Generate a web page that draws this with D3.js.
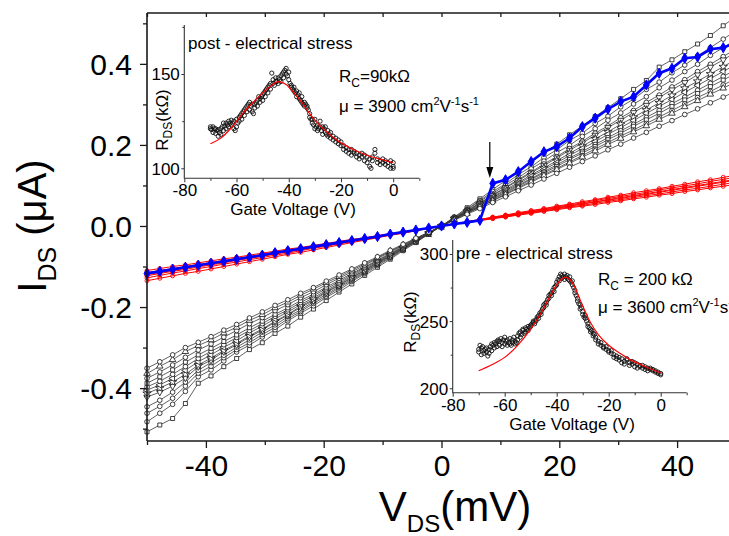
<!DOCTYPE html>
<html><head><meta charset="utf-8">
<script src="https://cdn.jsdelivr.net/npm/d3@7"></script>
<style>body{margin:0;background:#fff} svg{display:block}</style>
</head><body>
<svg id="c" width="729" height="536"></svg>
<script>
// ---------- main I-V data (V in mV, I in nA) ----------
const vds = [-50,-47.83,-45.65,-43.48,-41.3,-39.13,-36.96,-34.78,-32.61,-30.43,-28.26,-26.09,-23.91,-21.74,-19.57,-17.39,-15.22,-13.04,-10.87,-8.7,-6.52,-4.35,-2.17,0,2.17,4.35,6.52,8.7,10.87,13.04,15.22,17.39,19.57,21.74,23.91,26.09,28.26,30.43,32.61,34.78,36.96,39.13,41.3,43.48,45.65,47.83,50];

const bkA = [-508,-491,-475,-438,-388,-370,-347,-327,-305,-288,-265,-247,-225,-205,-184,-163,-143,-122,-102,-82,-61,-41,-20,0,22,45,67,90,112,135,157,180,202,225,247,270,292,314,337,359,392,410,430,449,470,494,517];
const bkB = [-483,-462,-440,-408,-372,-355,-333,-311,-294,-274,-256,-234,-215,-197,-176,-158,-137,-118,-98,-79,-59,-39,-20,0,21,42,63,85,104,127,146,169,188,211,229,253,271,294,313,337,355,378,397,420,440,461,482];
const bkC = [-462,-445,-425,-395,-363,-346,-325,-305,-288,-268,-250,-229,-211,-191,-173,-153,-134,-115,-95,-77,-57,-38,-19,0,20,40,61,80,101,119,141,160,181,199,221,240,261,279,301,319,341,360,381,399,421,440,460];
const bkD = [-446,-430,-410,-385,-356,-337,-319,-299,-281,-262,-244,-224,-207,-187,-169,-150,-131,-113,-93,-75,-56,-37,-19,0,19,38,57,77,95,115,133,153,171,191,209,229,247,267,285,305,323,343,361,381,399,418,437];
const bkE = [-422,-410,-395,-375,-347,-331,-310,-293,-274,-257,-237,-220,-201,-184,-164,-147,-128,-110,-91,-74,-55,-37,-18,0,19,37,56,75,94,112,131,149,168,187,205,224,243,261,280,298,317,336,354,373,392,410,429];
const bkF = [-413,-400,-385,-366,-343,-326,-307,-290,-271,-254,-235,-218,-198,-181,-162,-145,-126,-109,-90,-72,-54,-36,-18,0,18,36,54,72,90,107,126,143,161,179,197,215,232,251,268,286,304,322,340,357,375,393,411];
const bkG = [-405,-392,-376,-356,-335,-318,-299,-283,-264,-247,-229,-212,-194,-177,-159,-142,-123,-106,-88,-71,-53,-35,-18,0,17,35,52,70,87,104,122,139,156,174,191,208,226,243,260,278,295,312,330,347,364,381,399];
const bkH = [-397,-383,-366,-347,-327,-309,-293,-275,-258,-241,-223,-207,-189,-172,-155,-138,-120,-103,-86,-69,-52,-34,-17,0,17,34,50,67,84,101,117,134,151,168,184,201,218,235,251,268,285,302,318,335,352,369,386];
const bkI = [-388,-372,-355,-336,-318,-302,-285,-269,-251,-235,-218,-202,-184,-168,-151,-134,-117,-101,-84,-67,-50,-33,-17,0,16,33,49,66,82,98,115,131,147,164,180,196,213,229,246,262,278,295,311,327,344,360,377];
const bkJ = [-376,-360,-343,-324,-306,-291,-274,-258,-241,-226,-209,-194,-177,-162,-145,-129,-113,-97,-80,-64,-48,-32,-16,0,16,32,47,63,79,95,111,127,142,158,174,190,206,222,237,253,269,285,301,317,332,348,364];
const bkK = [-364,-346,-330,-310,-295,-281,-264,-250,-233,-219,-202,-188,-171,-156,-140,-125,-109,-94,-78,-62,-47,-31,-16,0,15,31,46,62,77,93,108,124,139,155,170,185,201,216,232,247,263,278,294,309,325,340,356];
const bkL = [-351,-335,-318,-300,-287,-273,-257,-243,-227,-212,-196,-182,-166,-152,-136,-121,-106,-91,-76,-60,-45,-30,-15,0,14,29,43,58,72,87,101,116,130,145,159,173,188,202,217,231,246,260,275,289,304,318,333];
const blackSeries = [bkA,bkB,bkC,bkD,bkE,bkF,bkG,bkH,bkI,bkJ,bkK,bkL];
const blackMarkers = ["square","circle","circle","circle","triangle-down","star","triangle-left","circle","square","circle","triangle-up","circle"];

const rd1 = [-110,-105,-100,-96,-91,-86,-81,-77,-72,-67,-62,-57,-53,-48,-43,-38,-33,-29,-24,-19,-14,-10,-5,0,4,9,13,18,22,27,31,36,40,45,49,53,58,62,67,71,76,80,85,89,94,98,103];
const rd2 = [-115,-110,-105,-100,-95,-90,-85,-80,-75,-70,-65,-60,-55,-50,-45,-40,-35,-30,-25,-20,-15,-10,-5,0,5,9,14,19,23,28,33,37,42,47,51,56,61,65,70,75,79,84,89,93,98,103,108];
const rd3 = [-120,-115,-110,-104,-99,-94,-89,-83,-78,-73,-68,-63,-57,-52,-47,-42,-37,-31,-26,-21,-16,-10,-5,0,5,10,15,20,24,29,34,39,44,49,54,59,64,68,73,78,83,88,93,98,103,108,113];
const rd4 = [-123,-117,-112,-107,-101,-96,-91,-85,-80,-75,-69,-64,-59,-53,-48,-43,-37,-32,-27,-21,-16,-11,-5,0,5,10,15,20,25,30,35,40,45,50,55,60,65,70,75,80,85,90,95,100,105,110,115];
const rd5 = [-128,-122,-116,-111,-105,-100,-94,-89,-83,-78,-72,-67,-61,-55,-50,-44,-39,-33,-28,-22,-17,-11,-6,0,5,10,16,21,26,31,37,42,47,52,57,63,68,73,78,83,89,94,99,104,110,115,120];
const rd6 = [-135,-129,-123,-117,-112,-106,-100,-94,-88,-82,-76,-70,-65,-59,-53,-47,-41,-35,-29,-23,-18,-12,-6,0,5,11,16,22,27,33,38,43,49,54,60,65,71,76,82,87,92,98,103,109,114,120,125];
const redSeries = [rd1,rd2,rd3,rd4,rd5,rd6];

const blueSeries = [-117,-112,-107,-102,-97,-92,-87,-82,-77,-72,-66,-61,-56,-51,-46,-41,-36,-31,-26,-20,-15,-10,-5,0,5,9,14,105,114,134,159,183,196,217,245,266,288,307,319,348,377,389,414,417,436,440,452];

const xMajor = [-40,-20,0,20,40], xMinor = [-50,-30,-10,10,30,50], xTop = [-50,-40,-30,-20,-10,0,10,20,30,40,50];
const yMajor = [-400,-200,0,200,400], yMinor = [-500,-300,-100,100,300,500];
const arrowV = 8.2, arrowTop = 142, arrowTip = 178;

// ---------- inset data (Vg in V, R in kOhm) ----------
const postPts = [[-70,122],[-70,121],[-69.5,120.5],[-69,122],[-69,119],[-68.5,121],[-68,118.5],[-68,121],[-67.5,120],[-67,117],[-67,120.5],[-66.5,119],[-66,118],[-66,121],[-65.5,122],[-65,120],[-65,124],[-64.5,122.5],[-64,121],[-64,124],[-63.5,123],[-63,122],[-63,125],[-62.5,124],[-62,123],[-62,125.5],[-61.5,124],[-61,121],[-61,125],[-60.5,120],[-60,122],[-60,126],[-59.5,124],[-59,127],[-59,125],[-58.5,128],[-58,126],[-58,129],[-57.5,130],[-57,128],[-57,131],[-56.5,132],[-56,130],[-56,133],[-55.5,134],[-55,131],[-55,135],[-54.5,133],[-54,130],[-54,134],[-53.5,129],[-53,132],[-53,134],[-52.5,135],[-52,133],[-52,136],[-51.5,138],[-51,135],[-51,137],[-50.5,138],[-50,136],[-50,139],[-49.5,140],[-49,138],[-49,141],[-48.5,142],[-48,140],[-48,143],[-47.5,144],[-47,142],[-47,145],[-46.5,150.5],[-46,145],[-46,147],[-45.5,144],[-45,146],[-45,148],[-44.5,146],[-44,145],[-44,148],[-43.5,147],[-43,149],[-43,146],[-42.5,150],[-42,148],[-42,151],[-41.5,152],[-41,153],[-41,150],[-40.5,149],[-40,147],[-40,151],[-39.5,145],[-39,143],[-39,144],[-38.5,142],[-38,141],[-38,143],[-37.5,140],[-37,138],[-37,141],[-36.5,139],[-36,137],[-36,140],[-35.5,136],[-35,135],[-35,138],[-34.5,134],[-34,133],[-34,135],[-33.5,134],[-33,132],[-33,133],[-32.5,131],[-32,127],[-32,129],[-31.5,126],[-31,124],[-31,126],[-30.5,123],[-30,121],[-30,126],[-29.5,122],[-29,120],[-29,123],[-28.5,121],[-28,125],[-28,122],[-27.5,120],[-27,118],[-27,122],[-26.5,121],[-26,119],[-26,122],[-25.5,118],[-25,117],[-25,120],[-24.5,118],[-24,116],[-24,119],[-23,117],[-23,115],[-22,116],[-22,114],[-21,113],[-21,115],[-20,112],[-20,114],[-19,110],[-19,112],[-18,109],[-18,111],[-17,108],[-17,110],[-16,110],[-16,107],[-15,108],[-15,109],[-14,106],[-14,108],[-13,107],[-13,105],[-12,108],[-12,106],[-11,104],[-11,107],[-10,103],[-10,106],[-9,101],[-9,105],[-8.5,100],[-8,104],[-8,106],[-7,110],[-7,108],[-6,105],[-6,103],[-5,104],[-5,102],[-4,103],[-4,105],[-3,102],[-3,104],[-2,101],[-2,103],[-1,100],[-1,104],[0,101],[0,103],[0,100]];
const postFit = [[-70,113],[-66,116],[-62,121.5],[-58,128.5],[-54,134.5],[-50,140],[-47,143.5],[-44,146],[-41,144.5],[-38,140],[-35,135],[-32,129],[-29,124],[-26,120],[-23,116.5],[-20,113.5],[-16,110.5],[-12,108],[-8,106],[-4,104.5],[0,103]];
const prePts = [[-70,227],[-70,229],[-69.5,232],[-69,225],[-69,230],[-68.5,231],[-68,228],[-68,226],[-67.5,229],[-67,227],[-67,230],[-66.5,224],[-66,226],[-66,229],[-65.5,231],[-65,233],[-65,228],[-64.5,232],[-64,230],[-64,234],[-63.5,233],[-63,231],[-63,235],[-62.5,236],[-62,232],[-62,235],[-61.5,237],[-61,234],[-61,231],[-60.5,236],[-60,238],[-60,233],[-59.5,235],[-59,232],[-59,236],[-58.5,234],[-58,237],[-58,233],[-57.5,232],[-57,234],[-57,236],[-56.5,238],[-56,235],[-56,233],[-55.5,234],[-55,236],[-55,239],[-54.5,241],[-54,242],[-54,238],[-53.5,240],[-53,243],[-53,244],[-52.5,241],[-52,242],[-52,245],[-51.5,244],[-51,246],[-51,243],[-50.5,245],[-50,247],[-50,246],[-49.5,248],[-49,249],[-49,250],[-48.5,248],[-48,251],[-48,250],[-47.5,253],[-47,252],[-47,254],[-46.5,256],[-46,257],[-46,255],[-45.5,259],[-45,262],[-45,260],[-44.5,263],[-44,264],[-44,262],[-43.5,266],[-43,267],[-43,269],[-42.5,270],[-42,271],[-42,269],[-41.5,273],[-41,272],[-41,275],[-40.5,276],[-40,277],[-40,279],[-39.5,281],[-39,280],[-39,283],[-38.5,285],[-38,284],[-38,282],[-37.5,283],[-37,285],[-37,281],[-36.5,283],[-36,284],[-36,282],[-35.5,281],[-35,283],[-35,280],[-34.5,279],[-34,277],[-34,280],[-33.5,275],[-33,273],[-33,271],[-32.5,269],[-32,267],[-32,265],[-31.5,263],[-31,262],[-31,259],[-30.5,260],[-30,257],[-30,255],[-29.5,253],[-29,252],[-29,254],[-28.5,250],[-28,248],[-28,246],[-27.5,245],[-27,244],[-27,242],[-26.5,243],[-26,241],[-26,239],[-25.5,240],[-25,238],[-25,236],[-24,235],[-24,233],[-23,234],[-23,232],[-22,231],[-22,230],[-21,229],[-21,231],[-20,228],[-20,227],[-19,226],[-19,228],[-18,225],[-18,223],[-17,224],[-17,222],[-16,221],[-16,223],[-15,219],[-15,222],[-14,220],[-14,218],[-13,221],[-13,222],[-12,219],[-12,217],[-11,220],[-11,218],[-10,216],[-10,219],[-9,218],[-9,215],[-8,217],[-8,216],[-7,215],[-7,217],[-6,216],[-6,214],[-5,215],[-5,213],[-4,214],[-4,215],[-3,213],[-3,214],[-2,212],[-2,213],[-1,211],[-1,212],[0,211],[0,210]];
const preFit = [[-70,213],[-65,217.5],[-60,223],[-55,232],[-50,244],[-46,256],[-43,267],[-40,277],[-38,281.5],[-36.5,282.5],[-35,281],[-33,275],[-31,266],[-29,257],[-27,249],[-24,240],[-20,232],[-16,226.5],[-12,221.5],[-8,218],[-4,214.5],[0,211.5]];
const insetXMajor = [-80,-60,-40,-20,0], insetXMinor = [-70,-50,-30,-10,10];

// ---------- drawing ----------
const FONT = "Arial, 'Liberation Sans', Helvetica, sans-serif";
const svg = d3.select("#c").style("font-family", FONT);
svg.append("rect").attr("width",729).attr("height",536).attr("fill","#fff");

const x = d3.scaleLinear().domain([-50,50]).range([147,736]);
const y = d3.scaleLinear().domain([-530.5,525.5]).range([441,13]);
const line = d3.line().x(d=>x(d[0])).y(d=>y(d[1]));
const intFmt = d => String(d);

function symPath(t){
  if(t==="circle") return {d:d3.symbol(d3.symbolCircle,17)(),r:0};
  if(t==="square") return {d:d3.symbol(d3.symbolSquare,16)(),r:0};
  if(t==="triangle-up") return {d:d3.symbol(d3.symbolTriangle,18)(),r:0};
  if(t==="triangle-down") return {d:d3.symbol(d3.symbolTriangle,18)(),r:180};
  if(t==="triangle-left") return {d:d3.symbol(d3.symbolTriangle,18)(),r:-90};
  if(t==="star") return {d:d3.symbol(d3.symbolStar,22)(),r:0};
  return {d:d3.symbol(d3.symbolCircle,17)(),r:0};
}

const gData = svg.append("g");
blackSeries.forEach((s,i)=>{
  const pts = vds.map((v,k)=>[v,s[k]]);
  gData.append("path").attr("d",line(pts)).attr("fill","none").attr("stroke","#3a3a3a").attr("stroke-width",0.8);
});
blackSeries.forEach((s,i)=>{
  const pts = vds.map((v,k)=>[v,s[k]]);
  const sp = symPath(blackMarkers[i]);
  gData.append("g").selectAll("path").data(pts).join("path")
    .attr("d",sp.d)
    .attr("transform",d=>`translate(${x(d[0])},${y(d[1])}) rotate(${sp.r})`)
    .attr("fill","#fff").attr("stroke","#111").attr("stroke-width",0.8);
});
redSeries.forEach(s=>{
  const pts = vds.map((v,k)=>[v,s[k]]);
  gData.append("path").attr("d",line(pts)).attr("fill","none").attr("stroke","#ff0000").attr("stroke-width",1);
  gData.append("g").selectAll("circle").data(pts).join("circle")
    .attr("cx",d=>x(d[0])).attr("cy",d=>y(d[1])).attr("r",2)
    .attr("fill","none").attr("stroke","#ff0000").attr("stroke-width",0.9);
});
{
  const pts = vds.map((v,k)=>[v,blueSeries[k]]);
  gData.append("path").attr("d",line(pts)).attr("fill","none").attr("stroke","#0000ff").attr("stroke-width",2.6);
  gData.append("g").selectAll("path").data(pts).join("path")
    .attr("d",d3.symbol(d3.symbolDiamond,30)())
    .attr("transform",d=>`translate(${x(d[0])},${y(d[1])})`)
    .attr("fill","#0000ff").attr("stroke","#0000ff").attr("stroke-width",1);
}
{
  const ax = x(arrowV);
  svg.append("line").attr("x1",ax).attr("x2",ax).attr("y1",arrowTop).attr("y2",arrowTip-6)
    .attr("stroke","#000").attr("stroke-width",1.2);
  svg.append("path").attr("d",`M${ax-3.5},${arrowTip-11}L${ax+3.5},${arrowTip-11}L${ax},${arrowTip}Z`).attr("fill","#000");
}

// ---------- main axes ----------
const axCol = "#1a1a1a";
function styleAxis(g, fs){
  g.select(".domain").remove();
  g.selectAll(".tick line").attr("stroke",axCol).attr("stroke-width",1.3);
  g.selectAll(".tick text").attr("fill","#000").style("font-size",fs+"px").style("font-family",FONT);
}
const gB = svg.append("g").attr("transform","translate(0,441)")
  .call(d3.axisBottom(x).tickValues(xMajor).tickSize(7).tickPadding(7).tickFormat(intFmt));
styleAxis(gB,30);
const gBm = svg.append("g").attr("transform","translate(0,441)")
  .call(d3.axisBottom(x).tickValues(xMinor).tickSize(4).tickFormat(""));
styleAxis(gBm,30);
const gT = svg.append("g").attr("transform","translate(0,13)")
  .call(d3.axisTop(x).tickValues(xTop).tickSize(-4).tickFormat(""));
styleAxis(gT,30);
const gL = svg.append("g").attr("transform","translate(147,0)")
  .call(d3.axisLeft(y).tickValues(yMajor).tickSize(7).tickPadding(8).tickFormat(d=>(d/1000).toFixed(1)));
styleAxis(gL,30);
gL.selectAll(".tick text").attr("dy","0.35em");
const gLm = svg.append("g").attr("transform","translate(147,0)")
  .call(d3.axisLeft(y).tickValues(yMinor).tickSize(4).tickFormat(""));
styleAxis(gLm,30);
svg.append("path").attr("d","M147,13H736M147,13V441M147,441H736M736,13V441")
  .attr("fill","none").attr("stroke",axCol).attr("stroke-width",1.6);

{
  const t = svg.append("text").attr("transform","translate(46,226) rotate(-90)")
    .attr("text-anchor","middle").style("font-size","40px").attr("fill","#000");
  t.append("tspan").text("I");
  t.append("tspan").text("DS").style("font-size","25px").attr("dy",10);
  t.append("tspan").text(" (\u03bcA)").attr("dy",-10);
}
{
  const t = svg.append("text").attr("transform","translate(455,521)")
    .attr("text-anchor","middle").style("font-size","42px").attr("fill","#000");
  t.append("tspan").text("V");
  t.append("tspan").text("DS").style("font-size","24px").attr("dy",11);
  t.append("tspan").text("(mV)").attr("dy",-11);
}

// ---------- insets ----------
function drawInset(cfg){
  const ix = d3.scaleLinear().domain([-80,10]).range(cfg.xr);
  const iy = d3.scaleLinear().domain(cfg.yd).range(cfg.yr);
  const g = svg.append("g");
  const ic = "#333";
  g.append("g").selectAll("circle").data(cfg.pts).join("circle")
    .attr("cx",d=>ix(d[0])).attr("cy",d=>iy(d[1])).attr("r",2.1)
    .attr("fill","none").attr("stroke","#111").attr("stroke-width",0.9);
  g.append("path").attr("d",d3.line().curve(d3.curveMonotoneX).x(d=>ix(d[0])).y(d=>iy(d[1]))(cfg.fit))
    .attr("fill","none").attr("stroke","#ff0000").attr("stroke-width",1.2);
  const st = (a)=>{ a.select(".domain").remove(); a.selectAll(".tick line").attr("stroke",ic).attr("stroke-width",1);
    a.selectAll(".tick text").attr("fill","#000").style("font-size","17px").style("font-family",FONT); };
  const ab = g.append("g").attr("transform",`translate(0,${cfg.yr[0]})`)
    .call(d3.axisBottom(ix).tickValues(insetXMajor).tickSize(4).tickPadding(2).tickFormat(intFmt));
  st(ab);
  const abm = g.append("g").attr("transform",`translate(0,${cfg.yr[0]})`)
    .call(d3.axisBottom(ix).tickValues(insetXMinor).tickSize(2.5).tickFormat(""));
  st(abm);
  const al = g.append("g").attr("transform",`translate(${cfg.xr[0]},0)`)
    .call(d3.axisLeft(iy).tickValues(cfg.yMajor).tickSize(3).tickPadding(1.5).tickFormat(intFmt));
  st(al);
  al.selectAll(".tick text").attr("dy","0.35em");
  const alm = g.append("g").attr("transform",`translate(${cfg.xr[0]},0)`)
    .call(d3.axisLeft(iy).tickValues(cfg.yMinor).tickSize(2).tickFormat(""));
  st(alm);
  g.append("path").attr("d",`M${cfg.xr[0]},${cfg.yr[1]}V${cfg.yr[0]}H${cfg.xr[1]}`)
    .attr("fill","none").attr("stroke",ic).attr("stroke-width",1.1);
  g.append("text").attr("x",cfg.xTitle[0]).attr("y",cfg.xTitle[1]).attr("text-anchor","middle")
    .style("font-size","17px").attr("fill","#000").text("Gate Voltage (V)");
  const yt = g.append("text").attr("transform",`translate(${cfg.yTitle[0]},${cfg.yTitle[1]}) rotate(-90)`)
    .attr("text-anchor","middle").style("font-size","17px").attr("fill","#000");
  yt.append("tspan").text("R");
  yt.append("tspan").text("DS").style("font-size","12px").attr("dy",4);
  yt.append("tspan").text("(k\u03a9)").attr("dy",-4);
  g.append("text").attr("x",cfg.label[0]).attr("y",cfg.label[1]).style("font-size","17px").attr("fill","#000").text(cfg.labelText);
  const rc = g.append("text").attr("x",cfg.rc[0]).attr("y",cfg.rc[1]).style("font-size","17px").attr("fill","#000");
  rc.append("tspan").text("R");
  rc.append("tspan").text("C").style("font-size","12px").attr("dy",5);
  rc.append("tspan").text(cfg.rcText).attr("dy",-5);
  const mu = g.append("text").attr("x",cfg.mu[0]).attr("y",cfg.mu[1]).style("font-size","17px").attr("fill","#000");
  mu.append("tspan").text("\u03bc = " + cfg.muVal + " cm");
  mu.append("tspan").text("2").style("font-size","11px").attr("dy",-7);
  mu.append("tspan").text("V").attr("dy",7);
  mu.append("tspan").text("-1").style("font-size","11px").attr("dy",-7);
  mu.append("tspan").text("s").attr("dy",7);
  mu.append("tspan").text("-1").style("font-size","11px").attr("dy",-7);
}

drawInset({xr:[184.3,419.3], yd:[94.7,176], yr:[178.3,25], yMajor:[100,150], yMinor:[125,175],
  pts:postPts, fit:postFit, xTitle:[293,215], yTitle:[168,120],
  label:[188,49], labelText:"post - electrical stress", rc:[339,82], rcText:"=90k\u03a9",
  mu:[339,112], muVal:"3900"});
drawInset({xr:[452.7,686.7], yd:[196.7,310.4], yr:[392.7,240], yMajor:[200,250,300], yMinor:[225,275],
  pts:prePts, fit:preFit, xTitle:[572,430], yTitle:[416,322],
  label:[456,259], labelText:"pre - electrical stress", rc:[598,285], rcText:" = 200 k\u03a9",
  mu:[598,313], muVal:"3600"});
</script>
</body></html>
